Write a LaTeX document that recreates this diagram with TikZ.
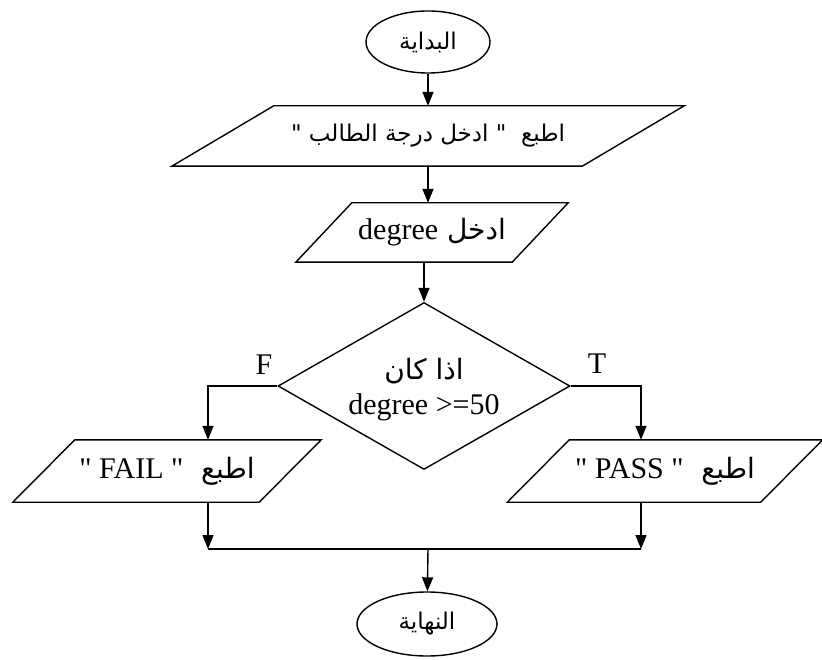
\documentclass[tikz,border=0pt]{standalone}
\usepackage{fontspec}
\setmainfont{Liberation Serif}[Ligatures=TeXOff]
\newfontfamily\arabicfont[Script=Arabic]{DejaVu Sans}
\TeXXeTstate=1
\usetikzlibrary{shapes.geometric,arrows.meta}
\newcommand\drawpara[2]{\draw[shapeline] ([xshift=#2]#1.north west) -- ([xshift=#2]#1.north east) -- ([xshift=-#2]#1.south east) -- ([xshift=-#2]#1.south west) -- cycle;}
\newcommand\arbig{\arabicfont\fontsize{28}{31}\selectfont}
\newcommand\latbig{\rmfamily\fontsize{30}{35}\selectfont}
\begin{document}
\begin{tikzpicture}[x=1pt,y=-1pt,
  shapeline/.style={line width=1.4pt,line join=miter},
  arr/.style={line width=1.4pt,-{Triangle[length=14pt,width=11pt]}},
  conn/.style={line width=1.4pt},
  term/.style={ellipse,draw,line width=1.4pt,inner sep=0pt},
  pbox/.style={rectangle,inner sep=0pt,align=center},
  arf/.style={font=\arabicfont\fontsize{23}{27}\selectfont},
  lat/.style={font=\latbig}]
\useasboundingbox (0,0) rectangle (822,660);

% terminals
\node[term,arf,minimum width=124,minimum height=62] (start) at (428,42) {\beginR البداية\endR};
\node[term,arf,minimum width=140,minimum height=64] (end) at (427,624) {\beginR النهاية\endR};

% parallelograms
\node[pbox,arf,minimum width=410,minimum height=60] (p1) at (428,136) {\beginR اطبع \ " ادخل درجة الطالب "\endR};
\drawpara{p1}{51}
\node[pbox,minimum width=216,minimum height=59] (p2) at (432,232.5) {\arbig\beginR ادخل \beginL{\latbig degree}\endL\endR};
\drawpara{p2}{28}
\node[pbox,minimum width=246,minimum height=62] (fail) at (167,471) {\arbig\beginR اطبع \ \beginL{\latbig " FAIL "}\endL\endR};
\drawpara{fail}{31}
\node[pbox,minimum width=253,minimum height=62] (pass) at (665,471) {\arbig\beginR اطبع \ \beginL{\latbig " PASS "}\endL\endR};
\drawpara{pass}{31}

% decision
\node[diamond,draw,line width=1.4pt,inner sep=0pt,minimum width=292,minimum height=167] (dec) at (424,386) {};
\node[pbox,lat] (dectext) at (424,390) {{\arbig\beginR اذا كان\endR}\\degree >=50};

% labels
\node[lat] (flab) at (264,365) {F};
\node[lat] (tlab) at (597,364) {T};

% columns and merge
\coordinate (fcol) at (208,0);
\coordinate (tcol) at (641,0);
\coordinate (merge) at (428,549);

% connectors
\draw[arr] (start) -- (p1);
\draw[arr] (p1.south) -- (p1.south |- p2.north);
\draw[arr] (dec.north |- p2.south) -- (dec.north);
\draw[arr] (dec.west) -| (fcol |- fail.north);
\draw[arr] (dec.east) -| (tcol |- pass.north);
\draw[arr] (fcol |- fail.south) -- (fcol |- merge);
\draw[arr] (tcol |- pass.south) -- (tcol |- merge);
\draw[conn] (fcol |- merge) -- (tcol |- merge);
\draw[arr] (merge) -- (end);
\end{tikzpicture}
\end{document}
